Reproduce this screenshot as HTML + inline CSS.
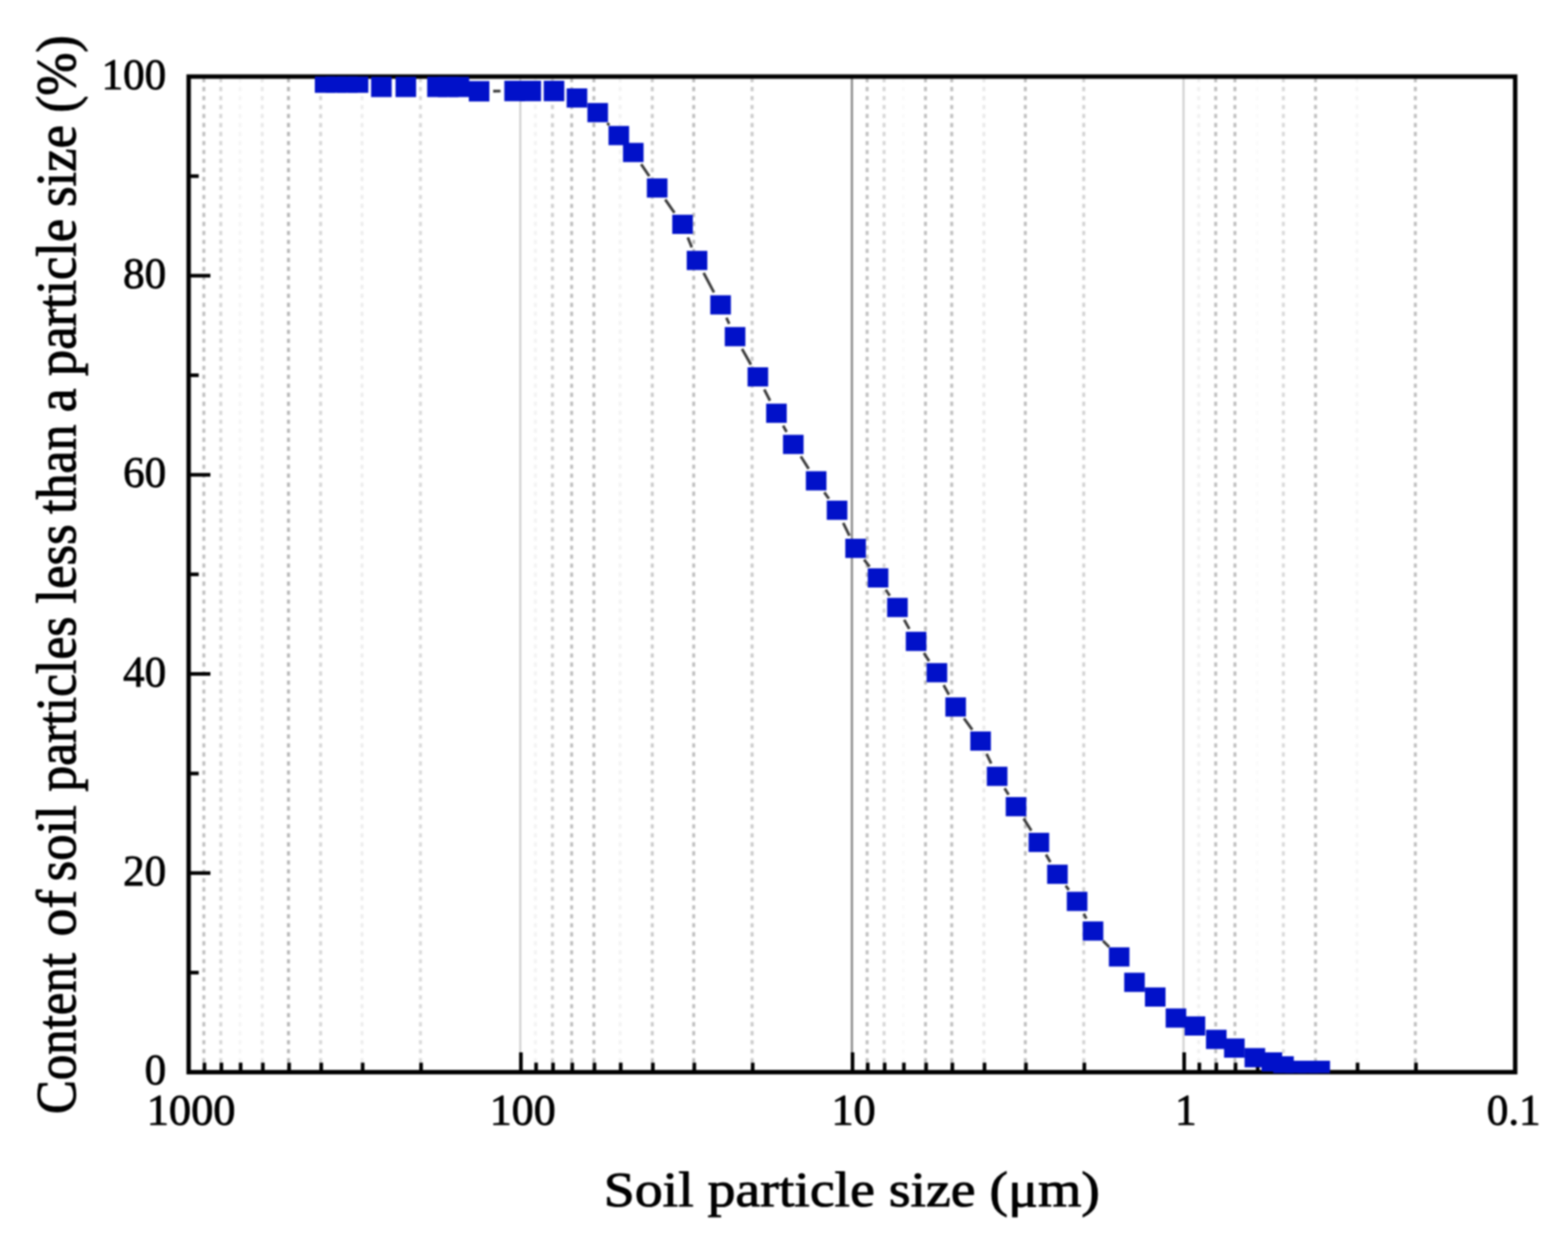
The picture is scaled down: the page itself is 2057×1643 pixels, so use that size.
<!DOCTYPE html>
<html lang="en"><head><meta charset="utf-8"><title>Soil particle size distribution</title>
<style>html,body{margin:0;padding:0;background:#fff;overflow:hidden}svg{display:block;filter:blur(0.8px)}text,tspan{font-family:"Liberation Serif","DejaVu Serif",serif;fill:#000;stroke:#000;stroke-linejoin:round}svg{stroke-width:1.2px}</style>
</head><body>
<svg width="2057" height="1643" viewBox="0 0 2057 1643">
<rect x="0" y="0" width="2057" height="1643" fill="#fff"/>
<defs><clipPath id="plot"><rect x="247.5" y="100.5" width="1740.2" height="1307.7"/></clipPath></defs>
<g fill="none">
<line x1="267.41" y1="102.3" x2="267.41" y2="1407" stroke="#8c8c8c" stroke-opacity="0.55" stroke-width="3.9" stroke-dasharray="5.6 6.2"/>
<line x1="289.66" y1="102.3" x2="289.66" y2="1407" stroke="#8c8c8c" stroke-opacity="0.35" stroke-width="3.9" stroke-dasharray="5.6 6.2"/>
<line x1="314.89" y1="102.3" x2="314.89" y2="1407" stroke="#8c8c8c" stroke-opacity="0.08" stroke-width="3.9" stroke-dasharray="5.6 6.2"/>
<line x1="344.02" y1="102.3" x2="344.02" y2="1407" stroke="#8c8c8c" stroke-opacity="0.18" stroke-width="3.9" stroke-dasharray="5.6 6.2"/>
<line x1="378.46" y1="102.3" x2="378.46" y2="1407" stroke="#8c8c8c" stroke-opacity="0.62" stroke-width="3.9" stroke-dasharray="5.6 6.2"/>
<line x1="420.62" y1="102.3" x2="420.62" y2="1407" stroke="#8c8c8c" stroke-opacity="0.35" stroke-width="3.9" stroke-dasharray="5.6 6.2"/>
<line x1="474.98" y1="102.3" x2="474.98" y2="1407" stroke="#8c8c8c" stroke-opacity="0.15" stroke-width="3.9" stroke-dasharray="5.6 6.2"/>
<line x1="551.59" y1="102.3" x2="551.59" y2="1407" stroke="#8c8c8c" stroke-opacity="0.32" stroke-width="3.9" stroke-dasharray="5.6 6.2"/>
<line x1="702.46" y1="102.3" x2="702.46" y2="1407" stroke="#8c8c8c" stroke-opacity="0.1" stroke-width="3.9" stroke-dasharray="5.6 6.2"/>
<line x1="724.71" y1="102.3" x2="724.71" y2="1407" stroke="#8c8c8c" stroke-opacity="0.4" stroke-width="3.9" stroke-dasharray="5.6 6.2"/>
<line x1="749.94" y1="102.3" x2="749.94" y2="1407" stroke="#8c8c8c" stroke-opacity="0.55" stroke-width="3.9" stroke-dasharray="5.6 6.2"/>
<line x1="779.07" y1="102.3" x2="779.07" y2="1407" stroke="#8c8c8c" stroke-opacity="0.55" stroke-width="3.9" stroke-dasharray="5.6 6.2"/>
<line x1="813.51" y1="102.3" x2="813.51" y2="1407" stroke="#8c8c8c" stroke-opacity="0.1" stroke-width="3.9" stroke-dasharray="5.6 6.2"/>
<line x1="855.67" y1="102.3" x2="855.67" y2="1407" stroke="#8c8c8c" stroke-opacity="0.45" stroke-width="3.9" stroke-dasharray="5.6 6.2"/>
<line x1="910.03" y1="102.3" x2="910.03" y2="1407" stroke="#8c8c8c" stroke-opacity="0.55" stroke-width="3.9" stroke-dasharray="5.6 6.2"/>
<line x1="986.64" y1="102.3" x2="986.64" y2="1407" stroke="#8c8c8c" stroke-opacity="0.45" stroke-width="3.9" stroke-dasharray="5.6 6.2"/>
<line x1="1137.51" y1="102.3" x2="1137.51" y2="1407" stroke="#8c8c8c" stroke-opacity="0.55" stroke-width="3.9" stroke-dasharray="5.6 6.2"/>
<line x1="1159.76" y1="102.3" x2="1159.76" y2="1407" stroke="#8c8c8c" stroke-opacity="0.35" stroke-width="3.9" stroke-dasharray="5.6 6.2"/>
<line x1="1184.99" y1="102.3" x2="1184.99" y2="1407" stroke="#8c8c8c" stroke-opacity="0.03" stroke-width="3.9" stroke-dasharray="5.6 6.2"/>
<line x1="1214.12" y1="102.3" x2="1214.12" y2="1407" stroke="#8c8c8c" stroke-opacity="0.55" stroke-width="3.9" stroke-dasharray="5.6 6.2"/>
<line x1="1248.56" y1="102.3" x2="1248.56" y2="1407" stroke="#8c8c8c" stroke-opacity="0.55" stroke-width="3.9" stroke-dasharray="5.6 6.2"/>
<line x1="1290.72" y1="102.3" x2="1290.72" y2="1407" stroke="#8c8c8c" stroke-opacity="0.18" stroke-width="3.9" stroke-dasharray="5.6 6.2"/>
<line x1="1345.08" y1="102.3" x2="1345.08" y2="1407" stroke="#8c8c8c" stroke-opacity="0.55" stroke-width="3.9" stroke-dasharray="5.6 6.2"/>
<line x1="1421.69" y1="102.3" x2="1421.69" y2="1407" stroke="#8c8c8c" stroke-opacity="0.38" stroke-width="3.9" stroke-dasharray="5.6 6.2"/>
<line x1="1572.56" y1="102.3" x2="1572.56" y2="1407" stroke="#8c8c8c" stroke-opacity="0.12" stroke-width="3.9" stroke-dasharray="5.6 6.2"/>
<line x1="1594.81" y1="102.3" x2="1594.81" y2="1407" stroke="#8c8c8c" stroke-opacity="0.55" stroke-width="3.9" stroke-dasharray="5.6 6.2"/>
<line x1="1620.04" y1="102.3" x2="1620.04" y2="1407" stroke="#8c8c8c" stroke-opacity="0.55" stroke-width="3.9" stroke-dasharray="5.6 6.2"/>
<line x1="1649.17" y1="102.3" x2="1649.17" y2="1407" stroke="#8c8c8c" stroke-opacity="0.03" stroke-width="3.9" stroke-dasharray="5.6 6.2"/>
<line x1="1683.61" y1="102.3" x2="1683.61" y2="1407" stroke="#8c8c8c" stroke-opacity="0.32" stroke-width="3.9" stroke-dasharray="5.6 6.2"/>
<line x1="1725.77" y1="102.3" x2="1725.77" y2="1407" stroke="#8c8c8c" stroke-opacity="0.55" stroke-width="3.9" stroke-dasharray="5.6 6.2"/>
<line x1="1780.13" y1="102.3" x2="1780.13" y2="1407" stroke="#8c8c8c" stroke-opacity="0.08" stroke-width="3.9" stroke-dasharray="5.6 6.2"/>
<line x1="1856.74" y1="102.3" x2="1856.74" y2="1407" stroke="#8c8c8c" stroke-opacity="0.55" stroke-width="3.9" stroke-dasharray="5.6 6.2"/>
<line x1="682.55" y1="100.5" x2="682.55" y2="1407" stroke="#d4d4d4" stroke-width="3.0"/>
<line x1="1117.6" y1="100.5" x2="1117.6" y2="1407" stroke="#8e8e8e" stroke-width="3.0"/>
<line x1="1552.65" y1="100.5" x2="1552.65" y2="1407" stroke="#d4d4d4" stroke-width="3.0"/>
</g>
<rect x="247.5" y="100.5" width="1740.2" height="1306.5" fill="none" stroke="#000" stroke-width="5.8"/>
<g stroke="#000" fill="none">
<line x1="683.35" y1="1407" x2="683.35" y2="1381" stroke-width="4.8"/>
<line x1="1118.4" y1="1407" x2="1118.4" y2="1381" stroke-width="4.8"/>
<line x1="1553.45" y1="1407" x2="1553.45" y2="1381" stroke-width="4.8"/>
<line x1="268.21" y1="1407" x2="268.21" y2="1394.5" stroke-width="4.8"/>
<line x1="290.46" y1="1407" x2="290.46" y2="1394.5" stroke-width="4.8"/>
<line x1="315.69" y1="1407" x2="315.69" y2="1394.5" stroke-width="4.8"/>
<line x1="344.82" y1="1407" x2="344.82" y2="1394.5" stroke-width="4.8"/>
<line x1="379.26" y1="1407" x2="379.26" y2="1394.5" stroke-width="4.8"/>
<line x1="421.42" y1="1407" x2="421.42" y2="1394.5" stroke-width="4.8"/>
<line x1="475.78" y1="1407" x2="475.78" y2="1394.5" stroke-width="4.8"/>
<line x1="552.39" y1="1407" x2="552.39" y2="1394.5" stroke-width="4.8"/>
<line x1="703.26" y1="1407" x2="703.26" y2="1394.5" stroke-width="4.8"/>
<line x1="725.51" y1="1407" x2="725.51" y2="1394.5" stroke-width="4.8"/>
<line x1="750.74" y1="1407" x2="750.74" y2="1394.5" stroke-width="4.8"/>
<line x1="779.87" y1="1407" x2="779.87" y2="1394.5" stroke-width="4.8"/>
<line x1="814.31" y1="1407" x2="814.31" y2="1394.5" stroke-width="4.8"/>
<line x1="856.47" y1="1407" x2="856.47" y2="1394.5" stroke-width="4.8"/>
<line x1="910.83" y1="1407" x2="910.83" y2="1394.5" stroke-width="4.8"/>
<line x1="987.44" y1="1407" x2="987.44" y2="1394.5" stroke-width="4.8"/>
<line x1="1138.31" y1="1407" x2="1138.31" y2="1394.5" stroke-width="4.8"/>
<line x1="1160.56" y1="1407" x2="1160.56" y2="1394.5" stroke-width="4.8"/>
<line x1="1185.79" y1="1407" x2="1185.79" y2="1394.5" stroke-width="4.8"/>
<line x1="1214.92" y1="1407" x2="1214.92" y2="1394.5" stroke-width="4.8"/>
<line x1="1249.36" y1="1407" x2="1249.36" y2="1394.5" stroke-width="4.8"/>
<line x1="1291.52" y1="1407" x2="1291.52" y2="1394.5" stroke-width="4.8"/>
<line x1="1345.88" y1="1407" x2="1345.88" y2="1394.5" stroke-width="4.8"/>
<line x1="1422.49" y1="1407" x2="1422.49" y2="1394.5" stroke-width="4.8"/>
<line x1="1573.36" y1="1407" x2="1573.36" y2="1394.5" stroke-width="4.8"/>
<line x1="1595.61" y1="1407" x2="1595.61" y2="1394.5" stroke-width="4.8"/>
<line x1="1620.84" y1="1407" x2="1620.84" y2="1394.5" stroke-width="4.8"/>
<line x1="1649.97" y1="1407" x2="1649.97" y2="1394.5" stroke-width="4.8"/>
<line x1="1684.41" y1="1407" x2="1684.41" y2="1394.5" stroke-width="4.8"/>
<line x1="1726.57" y1="1407" x2="1726.57" y2="1394.5" stroke-width="4.8"/>
<line x1="1780.93" y1="1407" x2="1780.93" y2="1394.5" stroke-width="4.8"/>
<line x1="1857.54" y1="1407" x2="1857.54" y2="1394.5" stroke-width="4.8"/>
<line x1="247.5" y1="1276.35" x2="260.7" y2="1276.35" stroke-width="4.8"/>
<line x1="247.5" y1="1145.7" x2="276" y2="1145.7" stroke-width="4.8"/>
<line x1="247.5" y1="1015.05" x2="260.7" y2="1015.05" stroke-width="4.8"/>
<line x1="247.5" y1="884.4" x2="276" y2="884.4" stroke-width="4.8"/>
<line x1="247.5" y1="753.75" x2="260.7" y2="753.75" stroke-width="4.8"/>
<line x1="247.5" y1="623.1" x2="276" y2="623.1" stroke-width="4.8"/>
<line x1="247.5" y1="492.45" x2="260.7" y2="492.45" stroke-width="4.8"/>
<line x1="247.5" y1="361.8" x2="276" y2="361.8" stroke-width="4.8"/>
<line x1="247.5" y1="231.15" x2="260.7" y2="231.15" stroke-width="4.8"/>
</g>
<g clip-path="url(#plot)">
<g stroke="#3a3a3a" stroke-width="3.6" fill="none">
<line x1="647" y1="119.64" x2="656.6" y2="119.56"/>
<line x1="796.63" y1="161.41" x2="799.27" y2="164.29"/>
<line x1="841.12" y1="215.46" x2="851.78" y2="231.34"/>
<line x1="872.69" y1="261.87" x2="884.81" y2="279.23"/>
<line x1="902.28" y1="311.57" x2="907.52" y2="324.63"/>
<line x1="923.06" y1="358.15" x2="936.64" y2="383.75"/>
<line x1="952.97" y1="416.93" x2="956.63" y2="424.97"/>
<line x1="973.42" y1="457.9" x2="985.08" y2="478.5"/>
<line x1="1002.63" y1="511.07" x2="1010.17" y2="525.83"/>
<line x1="1027.39" y1="558.58" x2="1031.91" y2="566.92"/>
<line x1="1050.53" y1="598.87" x2="1060.87" y2="615.33"/>
<line x1="1081.41" y1="646.09" x2="1087.39" y2="654.51"/>
<line x1="1106.19" y1="686.24" x2="1114.31" y2="702.96"/>
<line x1="1133.6" y1="734.33" x2="1140.7" y2="743.67"/>
<line x1="1162.03" y1="773.88" x2="1167.17" y2="781.72"/>
<line x1="1186.22" y1="813.41" x2="1192.88" y2="825.49"/>
<line x1="1212.04" y1="857.11" x2="1218.86" y2="867.39"/>
<line x1="1237.97" y1="899.03" x2="1244.83" y2="911.57"/>
<line x1="1264.62" y1="942.73" x2="1275.48" y2="957.57"/>
<line x1="1294.25" y1="989.25" x2="1300.25" y2="1002.05"/>
<line x1="1317.88" y1="1034.5" x2="1323.12" y2="1042.9"/>
<line x1="1342.87" y1="1074.18" x2="1352.93" y2="1089.92"/>
<line x1="1372.2" y1="1121.49" x2="1377.9" y2="1131.31"/>
<line x1="1398.06" y1="1162.28" x2="1402.14" y2="1167.92"/>
<line x1="1421.76" y1="1199.2" x2="1425.14" y2="1205.5"/>
<line x1="1447.04" y1="1234.82" x2="1455.06" y2="1242.78"/>
</g>
<g fill="#0111c9">
<rect x="413" y="95" width="27" height="26.8"/>
<rect x="427.5" y="95" width="27" height="26.8"/>
<rect x="441.9" y="95" width="27" height="26.8"/>
<rect x="456.2" y="95" width="27" height="26.8"/>
<rect x="486.8" y="100.6" width="27" height="26.8"/>
<rect x="518.9" y="100.6" width="27" height="26.8"/>
<rect x="560.4" y="100.6" width="27" height="26.8"/>
<rect x="574.5" y="100.6" width="27" height="26.8"/>
<rect x="588.5" y="100.6" width="27" height="26.8"/>
<rect x="615" y="106.4" width="27" height="26.8"/>
<rect x="661.6" y="106" width="27" height="26.8"/>
<rect x="682.8" y="106" width="27" height="26.8"/>
<rect x="713.3" y="106" width="27" height="26.8"/>
<rect x="743.4" y="116" width="27" height="25.2"/>
<rect x="770.6" y="135.2" width="27" height="25.2"/>
<rect x="798.3" y="165.3" width="27" height="25.2"/>
<rect x="817.3" y="187.5" width="27" height="25.2"/>
<rect x="848.6" y="234.1" width="27" height="25.2"/>
<rect x="881.9" y="281.8" width="27" height="25.2"/>
<rect x="900.9" y="329.2" width="27" height="25.2"/>
<rect x="931.8" y="387.5" width="27" height="25.2"/>
<rect x="950.8" y="429.2" width="27" height="25.2"/>
<rect x="980.7" y="482" width="27" height="25.2"/>
<rect x="1005.1" y="529.7" width="27" height="25.2"/>
<rect x="1027.2" y="570.6" width="27" height="25.2"/>
<rect x="1057.2" y="618.4" width="27" height="25.2"/>
<rect x="1084.6" y="657" width="27" height="25.2"/>
<rect x="1108.9" y="707" width="27" height="25.2"/>
<rect x="1138.4" y="745.8" width="27" height="25.2"/>
<rect x="1163.8" y="784.6" width="27" height="25.2"/>
<rect x="1188.3" y="829.1" width="27" height="25.2"/>
<rect x="1215.6" y="870.2" width="27" height="25.2"/>
<rect x="1240.2" y="915.2" width="27" height="25.2"/>
<rect x="1272.9" y="959.9" width="27" height="25.2"/>
<rect x="1294.6" y="1006.2" width="27" height="25.2"/>
<rect x="1319.4" y="1046" width="27" height="25.2"/>
<rect x="1349.4" y="1092.9" width="27" height="25.2"/>
<rect x="1373.7" y="1134.7" width="27" height="25.2"/>
<rect x="1399.5" y="1170.3" width="27" height="25.2"/>
<rect x="1420.4" y="1209.2" width="27" height="25.2"/>
<rect x="1454.7" y="1243.2" width="27" height="25.2"/>
<rect x="1474.8" y="1276.5" width="27" height="25.2"/>
<rect x="1502" y="1295.8" width="27" height="25.2"/>
<rect x="1529.2" y="1323.4" width="27" height="25.2"/>
<rect x="1554.1" y="1333.8" width="27" height="25.2"/>
<rect x="1582.1" y="1351.4" width="27" height="25.2"/>
<rect x="1605.8" y="1362.8" width="27" height="25.2"/>
<rect x="1632.7" y="1375.4" width="27" height="25.2"/>
<rect x="1655" y="1381" width="27" height="25.2"/>
<rect x="1670.3" y="1386.1" width="27" height="25.2"/>
<rect x="1686.5" y="1392" width="27" height="25.2"/>
<rect x="1702.5" y="1392" width="27" height="25.2"/>
<rect x="1717.8" y="1392" width="27" height="25.2"/>
</g>
</g>
<g font-size="56.5" style="stroke-width:1.0px">
<text x="218" y="1423.3" text-anchor="end">0</text>
<text x="218" y="1162" text-anchor="end">20</text>
<text x="218" y="900.7" text-anchor="end">40</text>
<text x="218" y="639.4" text-anchor="end">60</text>
<text x="218" y="378.1" text-anchor="end">80</text>
<text x="218" y="116.8" text-anchor="end">100</text>
<text x="250.7" y="1476.3" text-anchor="middle" textLength="116.5" lengthAdjust="spacingAndGlyphs">1000</text>
<text x="685.75" y="1476.3" text-anchor="middle" textLength="86.5" lengthAdjust="spacingAndGlyphs">100</text>
<text x="1119.8" y="1476.3" text-anchor="middle" textLength="58.0" lengthAdjust="spacingAndGlyphs">10</text>
<text x="1555.65" y="1476.3" text-anchor="middle">1</text>
<text x="1985.7" y="1476.3" text-anchor="middle">0.1</text>
</g>
<text x="792" y="1582.5" font-size="66.5" textLength="651" lengthAdjust="spacingAndGlyphs">Soil particle size (μm)</text>
<text transform="translate(98.6,1462) rotate(-90) scale(1,1.08)" y="0" font-size="68.5"><tspan x="-0" textLength="211.26" lengthAdjust="spacingAndGlyphs">Content</tspan> <tspan x="233" textLength="61.08" lengthAdjust="spacingAndGlyphs">of</tspan> <tspan x="305.5" textLength="99.83" lengthAdjust="spacingAndGlyphs">soil</tspan> <tspan x="423" textLength="230.01" lengthAdjust="spacingAndGlyphs">particles</tspan> <tspan x="670" textLength="103.99" lengthAdjust="spacingAndGlyphs">less</tspan> <tspan x="787.5" textLength="117.34" lengthAdjust="spacingAndGlyphs">than</tspan> <tspan x="921" textLength="31.29" lengthAdjust="spacingAndGlyphs">a</tspan> <tspan x="968.5" textLength="206.19" lengthAdjust="spacingAndGlyphs">particle</tspan> <tspan x="1190.5" textLength="107.34" lengthAdjust="spacingAndGlyphs">size</tspan> <tspan x="1314" textLength="101.44" lengthAdjust="spacingAndGlyphs">(%)</tspan></text>
</svg>
</body></html>
